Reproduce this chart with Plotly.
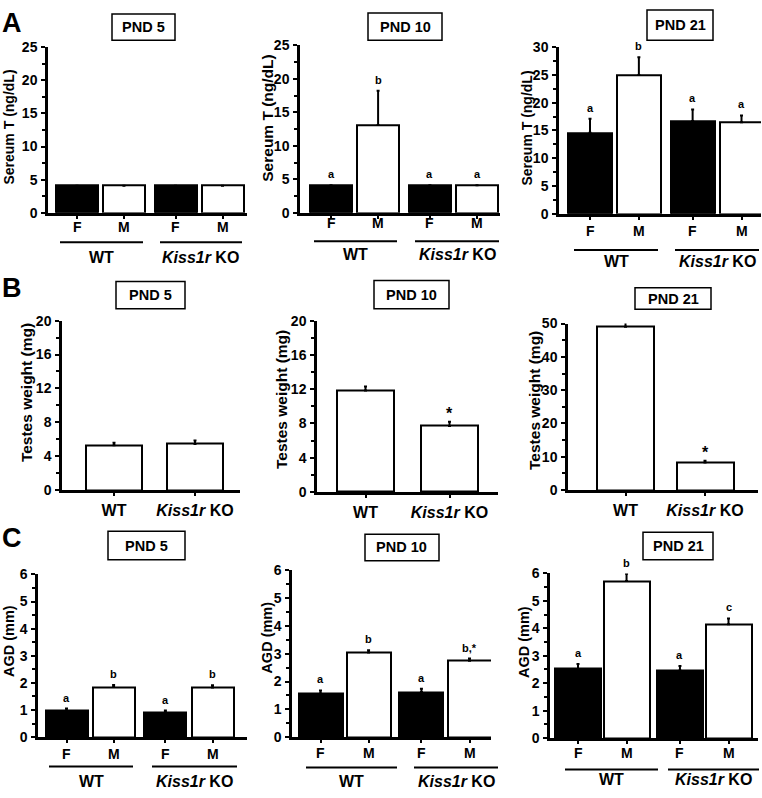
import plotly.graph_objects as go

W, H = 762, 798

# ---------------- data ----------------
sex_labels = ["F", "M", "F", "M"]
genotype_labels = ["WT", "<i>Kiss1r</i> KO"]
panel_titles = ["PND 5", "PND 10", "PND 21"]

serumT_pnd5 = [4.1, 4.1, 4.1, 4.1]
serumT_pnd5_err = [0, 0, 0, 0]
serumT_pnd5_sig = ["", "", "", ""]
serumT_pnd10 = [4.1, 13.1, 4.1, 4.1]
serumT_pnd10_err = [0, 5.1, 0, 0]
serumT_pnd10_sig = ["a", "b", "a", "a"]
serumT_pnd21 = [14.6, 25.0, 16.7, 16.5]
serumT_pnd21_err = [2.5, 3.2, 2.1, 1.2]
serumT_pnd21_sig = ["a", "b", "a", "a"]

testes_pnd5 = [5.3, 5.45]
testes_pnd5_err = [0.3, 0.4]
testes_pnd5_sig = ["", ""]
testes_pnd10 = [11.85, 7.7]
testes_pnd10_err = [0.45, 0.5]
testes_pnd10_sig = ["", "*"]
testes_pnd21 = [49.0, 8.3]
testes_pnd21_err = [1.7, 0.5]
testes_pnd21_sig = ["", "*"]

agd_pnd5 = [0.97, 1.85, 0.91, 1.83]
agd_pnd5_err = [0.08, 0.07, 0.07, 0.08]
agd_pnd5_sig = ["a", "b", "a", "b"]
agd_pnd10 = [1.57, 3.05, 1.62, 2.75]
agd_pnd10_err = [0.11, 0.08, 0.12, 0.08]
agd_pnd10_sig = ["a", "b", "a", "b,*"]
agd_pnd21 = [2.52, 5.72, 2.46, 4.15]
agd_pnd21_err = [0.18, 0.27, 0.17, 0.21]
agd_pnd21_sig = ["a", "b", "a", "c"]

# ---------------- layout geometry (pixels) ----------------
def X(px):
    return px / W

def Y(py):
    return 1 - py / H

FONT = "Liberation Sans, Arial, sans-serif"
TICK_FS = 14
SEX_FS = 14
GRP_FS = 16
TITLE_FS = 14.5

panels = [
    # row A
    dict(vals=serumT_pnd5, err=serumT_pnd5_err, sig=serumT_pnd5_sig, title=panel_titles[0],
         ymax=25, dtick=5, minor=2.5, ytitle="Sereum T (ng/dL)", ytfs=14,
         x0=48, x1=247, ytop=40, ybot=209, c0=77, c1=222.5, barw=42,
         box=(143.5, 19.5, 63, 27), yt=(9, 122), sexy=223, line_y=239,
         wt=(60, 143), ko=(160, 242), gy=255),
    dict(vals=serumT_pnd10, err=serumT_pnd10_err, sig=serumT_pnd10_sig, title=panel_titles[1],
         ymax=25, dtick=5, minor=2.5, ytitle="Sereum T (ng/dL)", ytfs=15.5,
         x0=300, x1=500, ytop=38, ybot=209, c0=331, c1=477, barw=42,
         box=(405, 19, 74, 28), yt=(268, 113), sexy=219, line_y=238,
         wt=(314, 397), ko=(415, 499), gy=252),
    dict(vals=serumT_pnd21, err=serumT_pnd21_err, sig=serumT_pnd21_sig, title=panel_titles[2],
         ymax=30, dtick=5, minor=2.5, ytitle="Sereum T (ng/dL)", ytfs=14,
         x0=559, x1=761, ytop=40, ybot=210, c0=590, c1=741.5, barw=44,
         box=(680, 17.5, 66, 31), yt=(527, 123), sexy=228, line_y=247,
         wt=(574, 658), ko=(675, 759), gy=259),
    # row B
    dict(vals=testes_pnd5, err=testes_pnd5_err, sig=testes_pnd5_sig, title=panel_titles[0],
         ymax=20, dtick=4, minor=2, ytitle="Testes weight (mg)", ytfs=15.5,
         x0=62, x1=240, ytop=319, ybot=492, c0=114, c1=195, barw=56,
         box=(150.5, 293, 69, 28), yt=(26, 393), gy=509),
    dict(vals=testes_pnd10, err=testes_pnd10_err, sig=testes_pnd10_sig, title=panel_titles[1],
         ymax=20, dtick=4, minor=2, ytitle="Testes weight (mg)", ytfs=15.5,
         x0=317, x1=498, ytop=319, ybot=494, c0=365.5, c1=449.5, barw=57,
         box=(411.5, 292.5, 75, 29), yt=(282, 400), gy=511),
    dict(vals=testes_pnd21, err=testes_pnd21_err, sig=testes_pnd21_sig, title=panel_titles[2],
         ymax=50, dtick=10, minor=5, ytitle="Testes weight (mg)", ytfs=15.5,
         x0=568, x1=758, ytop=322, ybot=492, c0=625.5, c1=705, barw=57,
         box=(673, 296.5, 76, 22), yt=(535, 401), gy=513),
    # row C
    dict(vals=agd_pnd5, err=agd_pnd5_err, sig=agd_pnd5_sig, title=panel_titles[0],
         ymax=6, dtick=1, minor=0.5, ytitle="AGD (mm)", ytfs=14.5,
         x0=38, x1=247, ytop=578, ybot=744, c0=66.5, c1=212.5, barw=42,
         box=(146.5, 548.5, 77, 29), yt=(9, 646), sexy=761, line_y=774,
         wt=(49, 133), ko=(152, 237), gy=789),
    dict(vals=agd_pnd10, err=agd_pnd10_err, sig=agd_pnd10_sig, title=panel_titles[1],
         ymax=6, dtick=1, minor=0.5, ytitle="AGD (mm)", ytfs=14.5,
         x0=292, x1=491, ytop=574, ybot=744, c0=320.5, c1=469.5, barw=44,
         box=(402, 550.5, 74, 27), yt=(267.5, 643), sexy=760, line_y=775,
         wt=(306, 397), ko=(414, 498), gy=789),
    dict(vals=agd_pnd21, err=agd_pnd21_err, sig=agd_pnd21_sig, title=panel_titles[2],
         ymax=6, dtick=1, minor=0.5, ytitle="AGD (mm)", ytfs=14.5,
         x0=550, x1=758, ytop=577, ybot=745, c0=578, c1=728.5, barw=46,
         box=(678, 549, 70, 28), yt=(524, 647), sexy=760, line_y=777,
         wt=(565, 658), ko=(668, 759), gy=787),
]

panel_letters = [("A", 12, 15), ("B", 12, 286), ("C", 12, 541)]

fig = go.Figure()
annotations = []
shapes = []
layout_axes = {}

for i, p in enumerate(panels):
    n = len(p["vals"])
    if n == 4:
        pos = [0, 1, 2.1, 3.1]
        colors = ["black", "white", "black", "white"]
    else:
        pos = [0, 1]
        colors = ["white", "white"]
    span = pos[-1] - pos[0]
    s = (p["c1"] - p["c0"]) / span  # px per unit
    xr = [pos[0] - (p["c0"] - p["x0"]) / s, pos[-1] + (p["x1"] - p["c1"]) / s]
    bw = p["barw"] / s

    k = "" if i == 0 else str(i + 1)
    xa, ya = "x" + k, "y" + k

    fig.add_trace(go.Bar(
        x=pos, y=p["vals"], width=bw, xaxis=xa, yaxis=ya,
        marker=dict(color=colors, line=dict(color="black", width=2)),
        error_y=dict(type="data", array=[e if e > 0 else None for e in p["err"]],
                     arrayminus=[0] * n, symmetric=False,
                     color="black", thickness=2, width=1.5),
        showlegend=False, hoverinfo="skip",
    ))

    if n == 4:
        ticktext = [""] * 4
    else:
        ticktext = ["<b>" + g + "</b>" for g in genotype_labels]

    layout_axes["xaxis" + k] = dict(
        domain=[X(p["x0"]), X(p["x1"])], anchor=ya, range=xr,
        showline=True, linecolor="black", linewidth=2.5, mirror=False,
        showgrid=False, zeroline=False, fixedrange=True,
        tickmode="array", tickvals=pos, ticktext=ticktext,
        ticks="outside", ticklen=3, tickwidth=1.5, tickcolor="black",
        tickfont=dict(family=FONT, size=GRP_FS, color="black"),
        ticklabelstandoff=1,
    )
    yticks = []
    v = 0
    while v <= p["ymax"] + 1e-9:
        yticks.append(v)
        v += p["dtick"]
    layout_axes["yaxis" + k] = dict(
        domain=[Y(p["ybot"]), Y(p["ytop"])], anchor=xa, range=[0, p["ymax"]],
        showline=True, linecolor="black", linewidth=2.5,
        showgrid=False, zeroline=False, fixedrange=True,
        tickmode="array", tickvals=yticks,
        ticktext=["<b>%g</b>" % t for t in yticks],
        ticks="outside", ticklen=4, tickwidth=2, tickcolor="black",
        tickfont=dict(family=FONT, size=TICK_FS, color="black"),
        ticklabelstandoff=1,
        minor=dict(dtick=p["minor"], ticks="outside", ticklen=3, tickwidth=1.5,
                   tickcolor="black", showgrid=False),
    )

    # significance letters
    for j in range(n):
        if p["sig"][j]:
            star = p["sig"][j] == "*"
            annotations.append(dict(
                x=pos[j], y=p["vals"][j] + p["err"][j], xref=xa, yref=ya,
                text="<b>%s</b>" % p["sig"][j], showarrow=False,
                xanchor="center", yanchor="bottom", yshift=3 if not star else -2,
                font=dict(family=FONT, size=11 if not star else 16, color="black"),
            ))

    # title box
    bx, by, bwid, bh = p["box"]
    shapes.append(dict(type="rect", xref="paper", yref="paper",
                       x0=X(bx - bwid / 2), x1=X(bx + bwid / 2),
                       y0=Y(by + bh / 2), y1=Y(by - bh / 2),
                       line=dict(color="black", width=1.5), fillcolor="white", layer="below"))
    annotations.append(dict(x=X(bx), y=Y(by), xref="paper", yref="paper",
                            text="<b>%s</b>" % p["title"], showarrow=False,
                            xanchor="center", yanchor="middle",
                            font=dict(family=FONT, size=TITLE_FS, color="black")))

    # y-axis title
    annotations.append(dict(x=X(p["yt"][0]), y=Y(p["yt"][1]), xref="paper", yref="paper",
                            text="<b>%s</b>" % p["ytitle"], showarrow=False, textangle=-90,
                            xanchor="center", yanchor="middle",
                            font=dict(family=FONT, size=p["ytfs"], color="black")))

    if n == 4:
        # F / M labels under bars
        for j in range(4):
            annotations.append(dict(x=pos[j], y=Y(p["sexy"]), xref=xa, yref="paper",
                                    text="<b>%s</b>" % sex_labels[j], showarrow=False,
                                    xanchor="center", yanchor="middle",
                                    font=dict(family=FONT, size=SEX_FS, color="black")))
        # group underlines and labels
        for (a, b), g in zip([p["wt"], p["ko"]], genotype_labels):
            shapes.append(dict(type="line", xref="paper", yref="paper",
                               x0=X(a), x1=X(b), y0=Y(p["line_y"]), y1=Y(p["line_y"]),
                               line=dict(color="black", width=2)))
            annotations.append(dict(x=X((a + b) / 2), y=Y(p["gy"]), xref="paper", yref="paper",
                                    text="<b>%s</b>" % g, showarrow=False,
                                    xanchor="center", yanchor="middle",
                                    font=dict(family=FONT, size=GRP_FS, color="black")))

for letter, lx, ly in panel_letters:
    annotations.append(dict(x=X(lx), y=Y(ly), xref="paper", yref="paper",
                            text="<b>%s</b>" % letter, showarrow=False,
                            xanchor="center", yanchor="middle",
                            font=dict(family=FONT, size=27, color="black")))

fig.update_layout(
    width=W, height=H, margin=dict(l=0, r=0, t=0, b=0),
    paper_bgcolor="white", plot_bgcolor="white",
    annotations=annotations, shapes=shapes, bargap=0,
    **layout_axes,
)

fig.write_html(
    "out.html",
    config={"displayModeBar": False},
    post_script="document.body.style.margin='0';document.body.style.overflow='hidden';",
)
